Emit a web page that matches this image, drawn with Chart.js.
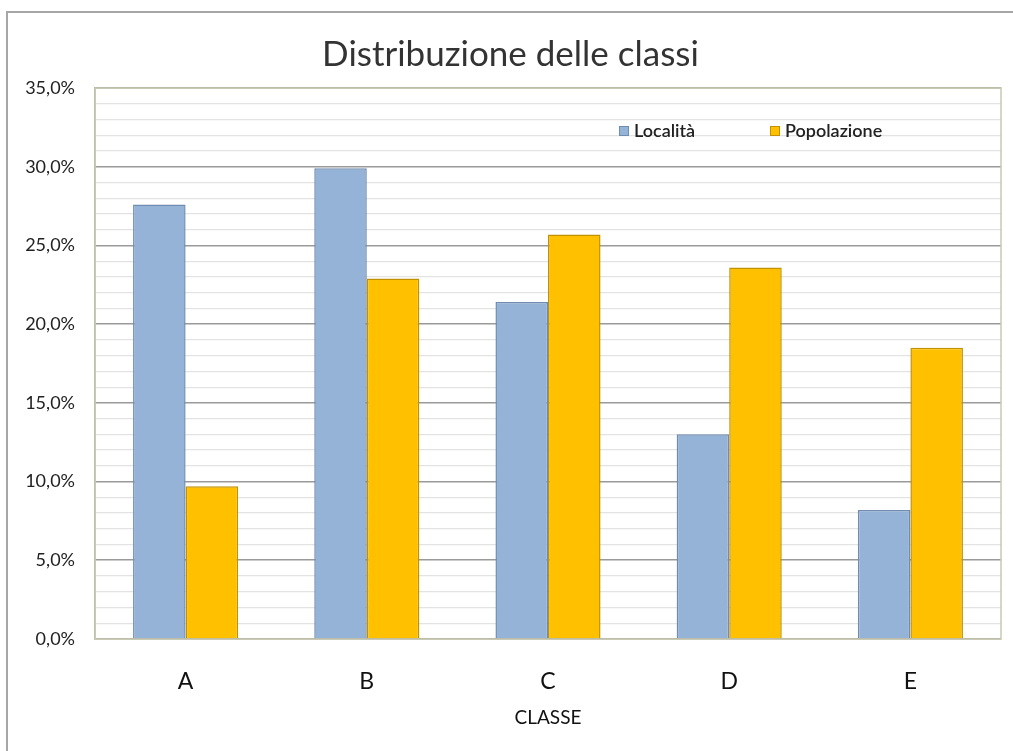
<!DOCTYPE html>
<html>
<head>
<meta charset="utf-8">
<script src="https://cdn.jsdelivr.net/npm/chart.js@4/dist/chart.umd.min.js"></script>
<style>
  html, body { margin: 0; padding: 0; background: #ffffff; }
  #wrap { position: relative; width: 1013px; height: 751px; overflow: hidden; }
  #frame { position: absolute; left: 6px; top: 11px; width: 1100px; height: 800px;
           border-left: 2px solid #a6a6a6; border-top: 2px solid #a6a6a6; }
  canvas { position: absolute; left: 0; top: 0; }
</style>
</head>
<body>
<div id="wrap">
  <div id="frame"></div>
  <canvas id="c" width="1013" height="751"></canvas>
</div>
<script>
const categories = ['A', 'B', 'C', 'D', 'E'];
const localita = [27.6, 29.9, 21.4, 13.0, 8.2];
const popolazione = [9.7, 22.9, 25.7, 23.6, 18.5];
const seriesNames = ['Località', 'Popolazione'];
const chartTitle = 'Distribuzione delle classi';
const xTitle = 'CLASSE';
const yMax = 35;

const FONT = "Lato, 'Open Sans', 'DejaVu Sans', sans-serif";

const areaBorder = {
  id: 'areaBorder',
  beforeDatasetsDraw(chart) {
    const { ctx, chartArea: a } = chart;
    ctx.save();
    ctx.strokeStyle = '#c9c9b0';
    ctx.lineWidth = 1.5;
    ctx.strokeRect(a.left, a.top, a.right - a.left, a.bottom - a.top);
    ctx.restore();
  }
};

const innerLegend = {
  id: 'innerLegend',
  afterDatasetsDraw(chart) {
    const { ctx, chartArea: a } = chart;
    const items = chart.data.datasets;
    const startX = [a.left + 524, a.left + 675];
    const y = a.top + 43;
    ctx.save();
    ctx.font = "600 18px " + FONT;
    ctx.textBaseline = 'middle';
    items.forEach((ds, i) => {
      const x = startX[i];
      ctx.fillStyle = ds.backgroundColor;
      ctx.fillRect(x, y - 5, 10, 10);
      ctx.strokeStyle = ds.borderColor;
      ctx.lineWidth = 1;
      ctx.strokeRect(x + 0.5, y - 4.5, 9, 9);
      ctx.fillStyle = '#222';
      ctx.fillText(ds.label, x + 15, y);
    });
    ctx.restore();
  }
};

new Chart(document.getElementById('c'), {
  type: 'bar',
  data: {
    labels: categories,
    datasets: [
      { label: seriesNames[0], data: localita, backgroundColor: '#95B3D7', borderColor: '#6f8db3', borderWidth: 1.5 },
      { label: seriesNames[1], data: popolazione, backgroundColor: '#FFC000', borderColor: '#c29100', borderWidth: 1.5 }
    ]
  },
  options: {
    responsive: false,
    animation: false,
    layout: { padding: { left: 20, right: 12, top: 12, bottom: 0 } },
    datasets: { bar: { categoryPercentage: 0.58, barPercentage: 1.0 } },
    plugins: {
      legend: { display: false },
      tooltip: { enabled: false },
      title: {
        display: true,
        text: chartTitle,
        color: '#333333',
        font: { family: FONT, size: 35, weight: 'normal', lineHeight: 1.2 },
        padding: { top: 22, bottom: 12 }
      }
    },
    scales: {
      x: {
        grid: { display: false, drawTicks: false },
        border: { display: false },
        ticks: { color: '#111', font: { family: FONT, size: 23 }, padding: 29 },
        title: { display: true, text: xTitle, color: '#111', font: { family: FONT, size: 19 }, padding: { top: 0, bottom: 22 } },
        afterFit(s) { s.height = 112; }
      },
      y: {
        min: 0, max: yMax,
        grid: {
          drawTicks: false,
          color: (c) => (c.tick && c.tick.value % 5 === 0) ? '#9a9a9a' : '#e3e3e3',
          lineWidth: (c) => (c.tick && c.tick.value % 5 === 0) ? 1.6 : 1.2
        },
        border: { display: true, color: '#a0a0a0', width: 1.5 },
        ticks: {
          stepSize: 1,
          autoSkip: false,
          padding: 20,
          color: '#222',
          font: { family: FONT, size: 18 },
          callback: (v) => (v % 5 === 0) ? v.toFixed(1).replace('.', ',') + '%' : ''
        },
        afterFit(s) { s.width = 75; }
      }
    }
  },
  plugins: [areaBorder, innerLegend]
});
</script>
</body>
</html>
